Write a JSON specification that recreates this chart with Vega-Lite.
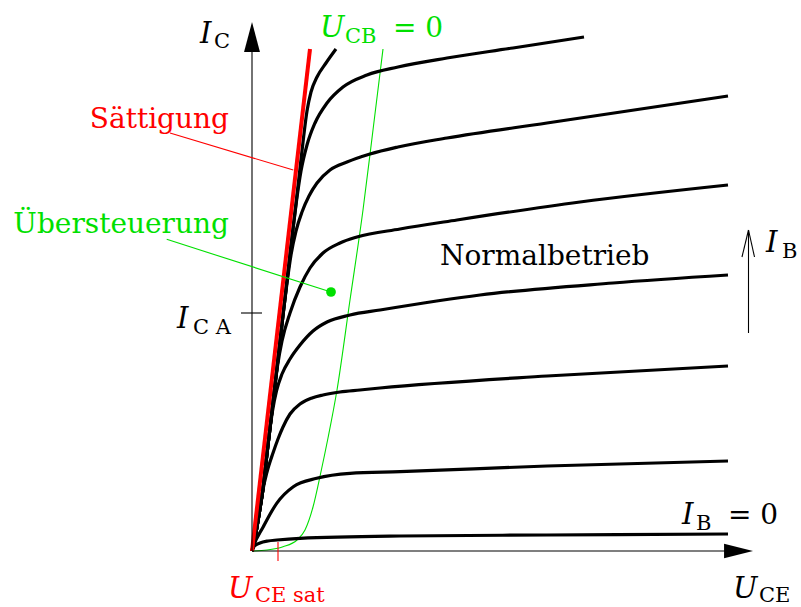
{
  "$schema": "https://vega.github.io/schema/vega-lite/v6.json",
  "width": 801,
  "height": 607,
  "padding": 0,
  "autosize": {"type": "none"},
  "background": "white",
  "config": {"view": {"stroke": null}},
  "datasets": {
    "curves": [
      {"curve": "B0", "u": 0, "i": 0}, {"curve": "B0", "u": 0.25, "i": 0.5}, {"curve": "B0", "u": 0.8, "i": 0.8}, {"curve": "B0", "u": 1.6, "i": 1.0}, {"curve": "B0", "u": 2.5, "i": 1.1}, {"curve": "B0", "u": 4.8, "i": 1.27}, {"curve": "B0", "u": 14.8, "i": 1.5}, {"curve": "B0", "u": 29.5, "i": 1.6}, {"curve": "B0", "u": 47.6, "i": 1.7},

      {"curve": "B1", "u": 0, "i": 0}, {"curve": "B1", "u": 0.13, "i": 0.43}, {"curve": "B1", "u": 1.13, "i": 2.43}, {"curve": "B1", "u": 2.47, "i": 4.77}, {"curve": "B1", "u": 4.13, "i": 6.43}, {"curve": "B1", "u": 6.47, "i": 7.27}, {"curve": "B1", "u": 9.8, "i": 7.77}, {"curve": "B1", "u": 14.8, "i": 7.93}, {"curve": "B1", "u": 29.5, "i": 8.5}, {"curve": "B1", "u": 47.6, "i": 9.0},

      {"curve": "B2", "u": 0, "i": 0}, {"curve": "B2", "u": 0.43, "i": 2}, {"curve": "B2", "u": 0.76, "i": 4}, {"curve": "B2", "u": 1.07, "i": 6}, {"curve": "B2", "u": 1.5, "i": 7.9}, {"curve": "B2", "u": 2.1, "i": 9.8}, {"curve": "B2", "u": 2.6, "i": 11.2}, {"curve": "B2", "u": 3.1, "i": 12.4}, {"curve": "B2", "u": 3.8, "i": 13.7}, {"curve": "B2", "u": 4.8, "i": 14.7}, {"curve": "B2", "u": 6.0, "i": 15.3}, {"curve": "B2", "u": 7.1, "i": 15.6}, {"curve": "B2", "u": 8.8, "i": 15.9}, {"curve": "B2", "u": 10.8, "i": 16.1}, {"curve": "B2", "u": 12.8, "i": 16.3}, {"curve": "B2", "u": 29.5, "i": 17.5}, {"curve": "B2", "u": 47.6, "i": 18.5},

      {"curve": "B3", "u": 0, "i": 0}, {"curve": "B3", "u": 0.43, "i": 2}, {"curve": "B3", "u": 0.76, "i": 4}, {"curve": "B3", "u": 1.07, "i": 6}, {"curve": "B3", "u": 1.53, "i": 10}, {"curve": "B3", "u": 1.77, "i": 12}, {"curve": "B3", "u": 2.05, "i": 14}, {"curve": "B3", "u": 2.45, "i": 16}, {"curve": "B3", "u": 3.0, "i": 17.7}, {"curve": "B3", "u": 3.8, "i": 19.2}, {"curve": "B3", "u": 4.8, "i": 20.6}, {"curve": "B3", "u": 6.1, "i": 22.0}, {"curve": "B3", "u": 7.5, "i": 22.9}, {"curve": "B3", "u": 9.8, "i": 23.6}, {"curve": "B3", "u": 12.8, "i": 24.1}, {"curve": "B3", "u": 22.8, "i": 25.6}, {"curve": "B3", "u": 36.1, "i": 26.8}, {"curve": "B3", "u": 47.6, "i": 27.6},

      {"curve": "B4", "u": 0, "i": 0}, {"curve": "B4", "u": 0.43, "i": 2}, {"curve": "B4", "u": 0.76, "i": 4}, {"curve": "B4", "u": 1.07, "i": 6}, {"curve": "B4", "u": 1.53, "i": 10}, {"curve": "B4", "u": 2.0, "i": 14}, {"curve": "B4", "u": 2.23, "i": 16}, {"curve": "B4", "u": 2.55, "i": 18.5}, {"curve": "B4", "u": 3.0, "i": 21.0}, {"curve": "B4", "u": 3.8, "i": 23.8}, {"curve": "B4", "u": 4.8, "i": 26.4}, {"curve": "B4", "u": 5.8, "i": 28.3}, {"curve": "B4", "u": 7.1, "i": 29.8}, {"curve": "B4", "u": 8.8, "i": 30.8}, {"curve": "B4", "u": 10.5, "i": 31.4}, {"curve": "B4", "u": 14.8, "i": 32.2}, {"curve": "B4", "u": 20.5, "i": 33.1}, {"curve": "B4", "u": 32.8, "i": 34.9}, {"curve": "B4", "u": 47.6, "i": 36.6},

      {"curve": "B5", "u": 0, "i": 0}, {"curve": "B5", "u": 0.43, "i": 2}, {"curve": "B5", "u": 0.76, "i": 4}, {"curve": "B5", "u": 1.07, "i": 6}, {"curve": "B5", "u": 1.53, "i": 10}, {"curve": "B5", "u": 2.0, "i": 14}, {"curve": "B5", "u": 2.46, "i": 18}, {"curve": "B5", "u": 2.92, "i": 22}, {"curve": "B5", "u": 3.15, "i": 24}, {"curve": "B5", "u": 3.5, "i": 26.8}, {"curve": "B5", "u": 3.9, "i": 29.6}, {"curve": "B5", "u": 4.4, "i": 32.0}, {"curve": "B5", "u": 5.0, "i": 33.9}, {"curve": "B5", "u": 5.7, "i": 35.5}, {"curve": "B5", "u": 6.5, "i": 36.8}, {"curve": "B5", "u": 7.8, "i": 38.1}, {"curve": "B5", "u": 9.5, "i": 38.9}, {"curve": "B5", "u": 11.8, "i": 39.7}, {"curve": "B5", "u": 14.6, "i": 40.4}, {"curve": "B5", "u": 19.5, "i": 41.3}, {"curve": "B5", "u": 29.5, "i": 42.8}, {"curve": "B5", "u": 47.6, "i": 45.5},

      {"curve": "B6", "u": 0, "i": 0}, {"curve": "B6", "u": 0.43, "i": 2}, {"curve": "B6", "u": 0.76, "i": 4}, {"curve": "B6", "u": 1.07, "i": 6}, {"curve": "B6", "u": 1.53, "i": 10}, {"curve": "B6", "u": 2.0, "i": 14}, {"curve": "B6", "u": 2.46, "i": 18}, {"curve": "B6", "u": 2.92, "i": 22}, {"curve": "B6", "u": 3.38, "i": 26}, {"curve": "B6", "u": 3.84, "i": 30}, {"curve": "B6", "u": 4.1, "i": 32.2}, {"curve": "B6", "u": 4.45, "i": 35}, {"curve": "B6", "u": 4.9, "i": 38.0}, {"curve": "B6", "u": 5.5, "i": 40.6}, {"curve": "B6", "u": 6.3, "i": 42.8}, {"curve": "B6", "u": 7.5, "i": 44.8}, {"curve": "B6", "u": 9.1, "i": 46.4}, {"curve": "B6", "u": 11.5, "i": 47.6}, {"curve": "B6", "u": 14.6, "i": 48.4}, {"curve": "B6", "u": 19.5, "i": 49.3}, {"curve": "B6", "u": 26.1, "i": 50.3}, {"curve": "B6", "u": 33.2, "i": 51.4},

      {"curve": "B7", "u": 0, "i": 0}, {"curve": "B7", "u": 0.43, "i": 2}, {"curve": "B7", "u": 0.76, "i": 4}, {"curve": "B7", "u": 1.07, "i": 6}, {"curve": "B7", "u": 1.53, "i": 10}, {"curve": "B7", "u": 2.0, "i": 14}, {"curve": "B7", "u": 2.46, "i": 18}, {"curve": "B7", "u": 2.92, "i": 22}, {"curve": "B7", "u": 3.38, "i": 26}, {"curve": "B7", "u": 3.84, "i": 30}, {"curve": "B7", "u": 4.31, "i": 34}, {"curve": "B7", "u": 4.77, "i": 38}, {"curve": "B7", "u": 5.16, "i": 41.4}, {"curve": "B7", "u": 5.5, "i": 44.0}, {"curve": "B7", "u": 5.9, "i": 45.9}, {"curve": "B7", "u": 6.5, "i": 47.4}, {"curve": "B7", "u": 7.4, "i": 48.8}, {"curve": "B7", "u": 8.4, "i": 50.2}
    ],
    "ucb": [
      {"u": 0, "i": 0}, {"u": 1.5, "i": 0.1}, {"u": 3.1, "i": 0.43}, {"u": 4.5, "i": 1.1}, {"u": 5.3, "i": 2.1}, {"u": 6.1, "i": 4.4}, {"u": 6.85, "i": 7.7}, {"u": 7.6, "i": 11.3}, {"u": 8.5, "i": 16.1}, {"u": 9.8, "i": 25.1}, {"u": 11.1, "i": 34.1}, {"u": 12.1, "i": 42.1}, {"u": 13.1, "i": 50.2}
    ],
    "saturation": [
      {"u": 0, "i": 0}, {"u": 5.8, "i": 50.2}
    ],
    "guides": [
      {"name": "axis I_C", "u": 0, "i": 0, "u2": 0, "i2": 49.9, "role": "base"},
      {"name": "axis U_CE", "u": 0, "i": 0, "u2": 47.4, "i2": 0, "role": "base"},
      {"name": "leader Sättigung", "u": -8.2, "i": 41.8, "u2": 4.13, "i2": 38.1, "role": "sat"},
      {"name": "leader Übersteuerung", "u": -8.53, "i": 31.17, "u2": 7.9, "i2": 25.9, "role": "ucb"},
      {"name": "tick I_CA", "u": -1.1, "i": 23.8, "u2": 1.0, "i2": 23.8, "role": "base"},
      {"name": "tick U_CEsat", "u": 2.6, "i": 0.9, "u2": 2.6, "i2": -1.0, "role": "sat"},
      {"name": "I_B shaft", "u": 49.65, "i": 21.8, "u2": 49.65, "i2": 32.1, "role": "base"},
      {"name": "I_B head left", "u": 49.0, "i": 29.4, "u2": 49.65, "i2": 32.1, "role": "base"},
      {"name": "I_B head right", "u": 50.25, "i": 29.4, "u2": 49.65, "i2": 32.1, "role": "base"}
    ],
    "arrowheads": [
      {"u": 0, "i": 51.4, "dir": "up"},
      {"u": 48.6, "i": 0, "dir": "right"}
    ],
    "marker": [
      {"u": 7.9, "i": 25.9, "role": "ucb"}
    ],
    "labels": [
      {"text": "I", "u": -5.2, "i": 50.8, "role": "base", "kind": "var"},
      {"text": "U", "u": 6.8, "i": 51.4, "role": "ucb", "kind": "var"},
      {"text": "I", "u": -7.5, "i": 22.3, "role": "base", "kind": "var"},
      {"text": "I", "u": 51.4, "i": 29.9, "role": "base", "kind": "var"},
      {"text": "I", "u": 43.0, "i": 2.7, "role": "base", "kind": "var"},
      {"text": "U", "u": 48.1, "i": -4.7, "role": "base", "kind": "var"},
      {"text": "U", "u": -2.4, "i": -4.7, "role": "sat", "kind": "var"},
      {"text": "C", "u": -3.8, "i": 50.3, "role": "base", "kind": "sub"},
      {"text": "CB", "u": 9.3, "i": 50.8, "role": "ucb", "kind": "sub"},
      {"text": "C A", "u": -5.9, "i": 21.7, "role": "base", "kind": "sub"},
      {"text": "B", "u": 53.0, "i": 29.3, "role": "base", "kind": "sub"},
      {"text": "B", "u": 44.4, "i": 2.1, "role": "base", "kind": "sub"},
      {"text": "CE", "u": 50.7, "i": -5.05, "role": "base", "kind": "sub"},
      {"text": "CE sat", "u": 0.3, "i": -5.05, "role": "sat", "kind": "sub"},
      {"text": "= 0", "u": 14.1, "i": 51.4, "role": "ucb", "kind": "word"},
      {"text": "= 0", "u": 47.6, "i": 2.7, "role": "base", "kind": "word"},
      {"text": "Normalbetrieb", "u": 18.8, "i": 28.6, "role": "base", "kind": "word"},
      {"text": "Sättigung", "u": -2.3, "i": 42.3, "role": "sat", "kind": "wordR"},
      {"text": "Übersteuerung", "u": -2.3, "i": 31.8, "role": "ucb", "kind": "wordR"}
    ]
  },
  "encoding": {
    "x": {"field": "u", "type": "quantitative", "scale": {"domain": [-25.2, 54.9], "nice": false, "zero": false}, "axis": null},
    "y": {"field": "i", "type": "quantitative", "scale": {"domain": [-5.6, 55.1], "nice": false, "zero": false}, "axis": null}
  },
  "layer": [
    {
      "data": {"name": "ucb"},
      "mark": {"type": "line", "interpolate": "monotone", "color": "#00e000", "strokeWidth": 1.1},
      "encoding": {}
    },
    {
      "data": {"name": "curves"},
      "mark": {"type": "line", "interpolate": "monotone", "color": "black", "strokeWidth": 3.2, "strokeJoin": "round"},
      "encoding": {"detail": {"field": "curve", "type": "nominal"}}
    },
    {
      "data": {"name": "saturation"},
      "mark": {"type": "line", "color": "#ff0000", "strokeWidth": 4},
      "encoding": {}
    },
    {
      "data": {"name": "guides"},
      "mark": {"type": "rule", "strokeWidth": 1.1},
      "encoding": {
        "x2": {"field": "u2"},
        "y2": {"field": "i2"},
        "color": {"field": "role", "type": "nominal", "scale": {"domain": ["base", "sat", "ucb"], "range": ["#000000", "#ff0000", "#00e000"]}, "legend": null}
      }
    },
    {
      "data": {"name": "arrowheads"},
      "mark": {"type": "point", "filled": true, "size": 900, "opacity": 1, "strokeWidth": 0, "color": "black"},
      "encoding": {
        "shape": {"field": "dir", "type": "nominal", "scale": {"domain": ["up", "right"], "range": ["M0,-1L-0.53,1L0.53,1Z", "M1,0L-0.93,-0.48L-0.93,0.48Z"]}, "legend": null}
      }
    },
    {
      "data": {"name": "marker"},
      "mark": {"type": "point", "shape": "circle", "filled": true, "size": 95, "opacity": 1},
      "encoding": {
        "color": {"field": "role", "type": "nominal", "scale": {"domain": ["base", "sat", "ucb"], "range": ["#000000", "#ff0000", "#00e000"]}, "legend": null}
      }
    },
    {
      "data": {"name": "labels"},
      "transform": [{"filter": "datum.kind === 'var'"}],
      "mark": {"type": "text", "font": "DejaVu Serif", "fontStyle": "italic", "fontSize": 29, "align": "left", "baseline": "alphabetic"},
      "encoding": {
        "text": {"field": "text"},
        "color": {"field": "role", "type": "nominal", "scale": {"domain": ["base", "sat", "ucb"], "range": ["#000000", "#ff0000", "#00e000"]}, "legend": null}
      }
    },
    {
      "data": {"name": "labels"},
      "transform": [{"filter": "datum.kind === 'sub'"}],
      "mark": {"type": "text", "font": "DejaVu Serif", "fontSize": 21, "align": "left", "baseline": "alphabetic"},
      "encoding": {
        "text": {"field": "text"},
        "color": {"field": "role", "type": "nominal", "scale": {"domain": ["base", "sat", "ucb"], "range": ["#000000", "#ff0000", "#00e000"]}, "legend": null}
      }
    },
    {
      "data": {"name": "labels"},
      "transform": [{"filter": "datum.kind === 'word'"}],
      "mark": {"type": "text", "font": "DejaVu Serif", "fontSize": 28, "align": "left", "baseline": "alphabetic"},
      "encoding": {
        "text": {"field": "text"},
        "color": {"field": "role", "type": "nominal", "scale": {"domain": ["base", "sat", "ucb"], "range": ["#000000", "#ff0000", "#00e000"]}, "legend": null}
      }
    },
    {
      "data": {"name": "labels"},
      "transform": [{"filter": "datum.kind === 'wordR'"}],
      "mark": {"type": "text", "font": "DejaVu Serif", "fontSize": 28, "align": "right", "baseline": "alphabetic"},
      "encoding": {
        "text": {"field": "text"},
        "color": {"field": "role", "type": "nominal", "scale": {"domain": ["base", "sat", "ucb"], "range": ["#000000", "#ff0000", "#00e000"]}, "legend": null}
      }
    }
  ]
}
